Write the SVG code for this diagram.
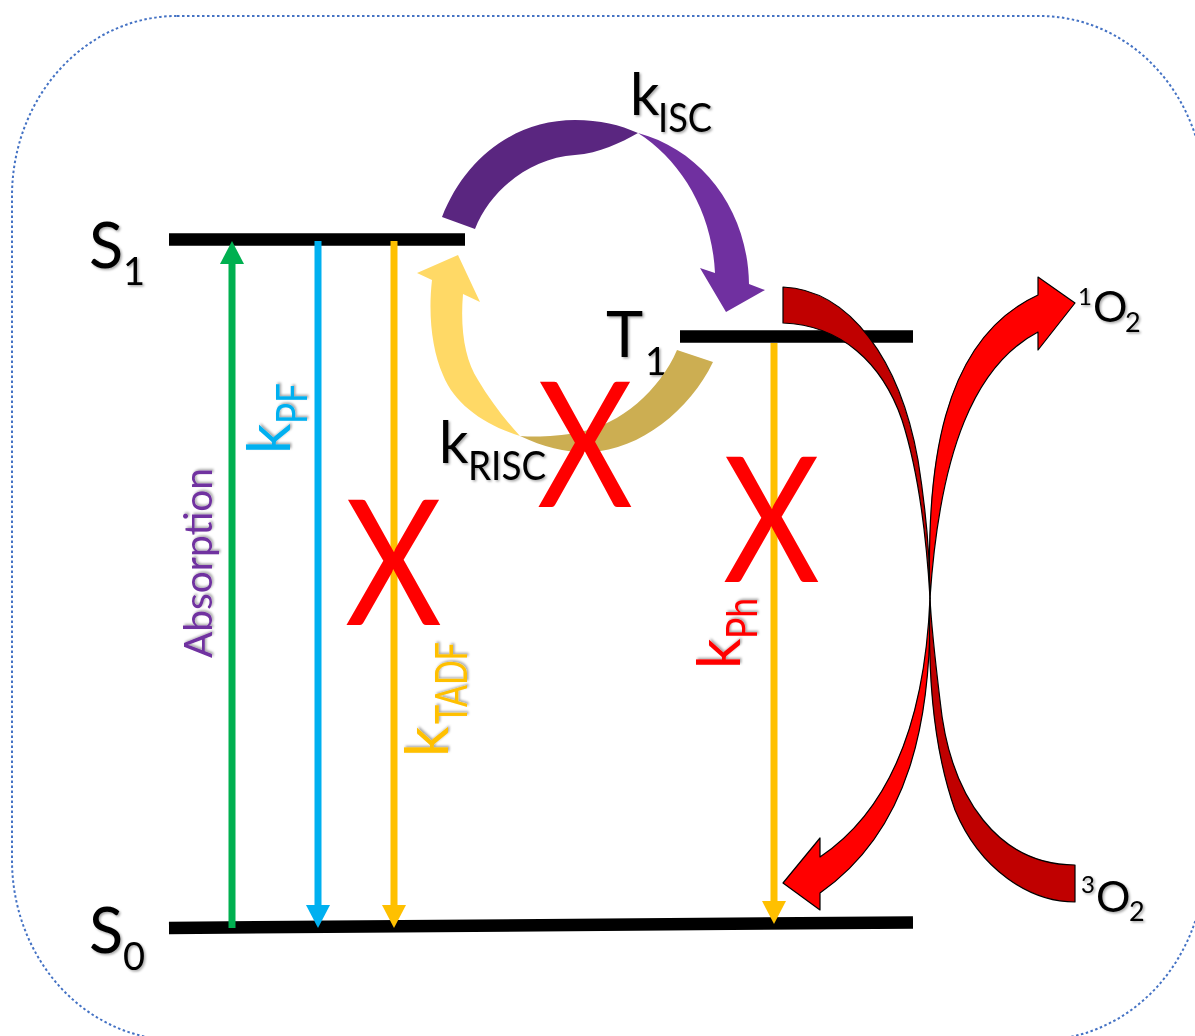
<svg xmlns="http://www.w3.org/2000/svg" width="1195" height="1036" viewBox="0 0 1195 1036">
<defs>
<style>
text{font-family:Lato,"Open Sans","DejaVu Sans",sans-serif}
.lbl{fill:#000}
.sh{filter:url(#shadow)}
.lvl{stroke:#000;stroke-width:12.5;fill:none}
.vt{stroke-width:7;fill:none}
.xm{fill:#FF0000;font-size:174px}
.red{stroke:#000;stroke-width:1.2;stroke-linejoin:round}
</style>
<filter id="shadow" x="-20%" y="-20%" width="140%" height="140%">
<feDropShadow dx="1.5" dy="1.5" stdDeviation="1.2" flood-color="#000" flood-opacity="0.35"/>
</filter>
<marker id="hg" markerUnits="userSpaceOnUse" viewBox="0 0 23 24" markerWidth="23" markerHeight="24" refX="0" refY="12" orient="auto"><path d="M0,0 L23,12 L0,24 Z" fill="#00B050"/></marker>
<marker id="hb" markerUnits="userSpaceOnUse" viewBox="0 0 23 24" markerWidth="23" markerHeight="24" refX="0" refY="12" orient="auto"><path d="M0,0 L23,12 L0,24 Z" fill="#00B0F0"/></marker>
<marker id="hy" markerUnits="userSpaceOnUse" viewBox="0 0 23 24" markerWidth="23" markerHeight="24" refX="0" refY="12" orient="auto"><path d="M0,0 L23,12 L0,24 Z" fill="#FFC000"/></marker>
</defs>
<rect width="1195" height="1036" fill="#fff"/>
<rect x="12" y="16" width="1193" height="1024" rx="165" ry="180" fill="none" stroke="#4472C4" stroke-width="2" stroke-dasharray="2.5 2.5"/>

<g id="S1">
<line class="lvl" x1="169" y1="239.5" x2="465" y2="239.5"/>
<text class="lbl sh" x="89" y="268" font-size="63">S<tspan x="123" y="285" font-size="38">1</tspan></text>
</g>
<g id="S0">
<line class="lvl" x1="169" y1="928" x2="913" y2="922.5"/>
<text class="lbl sh" x="89" y="953" font-size="63">S<tspan x="123" y="970" font-size="38">0</tspan></text>
</g>
<g id="T1">
<line class="lvl" x1="680" y1="336.5" x2="913" y2="336.5"/>
<text class="lbl sh" x="606" y="357" font-size="63">T<tspan x="645" y="375" font-size="38">1</tspan></text>
</g>
<g id="O2singlet">
<text class="lbl sh" x="1078" y="305" font-size="24">1<tspan x="1093" y="322" font-size="43">O</tspan><tspan x="1125" y="332" font-size="27">2</tspan></text>
</g>
<g id="O2triplet">
<text class="lbl sh" x="1081" y="893" font-size="24">3<tspan x="1096" y="912" font-size="43">O</tspan><tspan x="1129" y="921" font-size="27">2</tspan></text>
</g>

<g id="connectors">
<line class="vt" stroke="#00B050" x1="232" y1="928" x2="232" y2="264" marker-end="url(#hg)"/>
<line class="vt" stroke="#00B0F0" x1="318" y1="241" x2="318" y2="905" marker-end="url(#hb)"/>
<line class="vt" stroke="#FFC000" x1="394" y1="241" x2="394" y2="905" marker-end="url(#hy)"/>
<line class="vt" stroke="#FFC000" x1="774" y1="343" x2="774" y2="901" marker-end="url(#hy)"/>

<g id="isc-arrow">
<path fill="#5A2680" d="M442,217 C465,158 515,120 575,120 C600,120 620,125 638,133 C620,143 600,153 575,155 C530,158 490,190 475,229 Z"/>
<path fill="#7030A0" d="M638,133 C702,150 748,210 749,284 L765,290 L726,312 L700,268 L715,273 C712,210 680,160 638,133 Z"/>
</g>
<g id="risc-arrow">
<path fill="#FFD966" d="M458,255 L480,302 L463,294 C460,330 465,360 478,380 C490,400 505,420 520,436 C485,425 455,405 443,375 C432,350 428,315 432,280 L417,273 Z"/>
<path fill="#CCAE52" d="M520,436 C545,448 570,453 590,452 C640,450 690,410 713,362 L677,350 C660,390 620,425 580,432 C555,437 535,437 520,436 Z"/>
</g>
<g id="o2-arrow-left">
<path class="red" fill="#C00000" d="M783,287 C850,290 900,360 918,460 C926,510 930,560 930,598 C926,530 918,470 902,420 C882,362 840,325 783,323 Z"/>
<path class="red" fill="#FF0000" d="M930,598 C932,720 910,830 820,893 L820,910 L783,883 L820,838 L820,857 C890,810 925,720 930,598 Z"/>
</g>
<g id="o2-arrow-right">
<path class="red" fill="#C00000" d="M1075,865 C1000,865 950,800 940,700 C934,650 931,620 930,598 C928,660 930,740 955,810 C980,870 1030,902 1075,902 Z"/>
<path class="red" fill="#FF0000" d="M930,598 C926,470 940,340 1038,295 L1038,277 L1075,303 L1038,350 L1038,332 C975,365 940,450 930,598 Z"/>
</g>
</g>

<g id="labels">
<g id="kISC">
<text class="lbl sh" x="630" y="115" font-size="58">k<tspan x="658" y="132" font-size="40" textLength="54" lengthAdjust="spacingAndGlyphs">ISC</tspan></text>
</g>
<g id="kRISC">
<text class="lbl sh" x="439" y="463" font-size="58">k<tspan x="468" y="480" font-size="40" textLength="78" lengthAdjust="spacingAndGlyphs">RISC</tspan></text>
</g>
<g id="absorption" transform="translate(212,563) rotate(-90)">
<text class="sh" fill="#7030A0" x="0" y="0" font-size="39" text-anchor="middle" textLength="190" lengthAdjust="spacingAndGlyphs">Absorption</text>
</g>
<g id="kPF" transform="translate(290,454) rotate(-90)">
<text class="sh" fill="#00B0F0" x="0" y="0" font-size="60">k<tspan x="30" y="17" font-size="42" textLength="41" lengthAdjust="spacingAndGlyphs">PF</tspan></text>
</g>
<g id="kTADF" transform="translate(448,757) rotate(-90)">
<text class="sh" fill="#FFC000" x="0" y="0" font-size="60">k<tspan x="33" y="19" font-size="44" textLength="82" lengthAdjust="spacingAndGlyphs">TADF</tspan></text>
</g>
<g id="kPh" transform="translate(740,669) rotate(-90)">
<text class="sh" fill="#FF0000" x="0" y="0" font-size="60">k<tspan x="30" y="17" font-size="42" textLength="41" lengthAdjust="spacingAndGlyphs">Ph</tspan></text>
</g>
</g>

<g id="blocked">
<text class="xm" x="345" y="625" textLength="97" lengthAdjust="spacingAndGlyphs">X</text>
<text class="xm" x="537" y="507" textLength="96" lengthAdjust="spacingAndGlyphs">X</text>
<text class="xm" x="723" y="582" textLength="97" lengthAdjust="spacingAndGlyphs">X</text>
</g>
</svg>
